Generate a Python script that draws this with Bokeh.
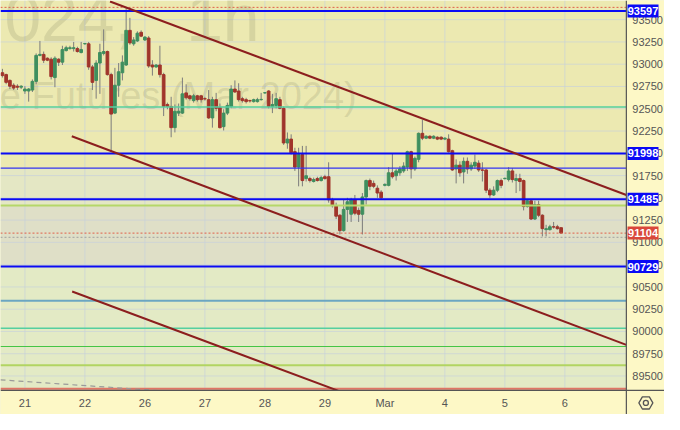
import numpy as np
from bokeh.plotting import figure
from bokeh.models import Range1d, ColumnDataSource
from bokeh.core.properties import value
from bokeh.embed import file_html
from bokeh.resources import INLINE

# ---------------- data ----------------
day_labels = ["21", "22", "26", "27", "28", "29", "Mar", "4", "5", "6"]
bars_per_day = 16
first_full_day_bar = 6
y_ticks = [89500, 89750, 90000, 90250, 90500, 90750, 91000, 91250, 91500,
           91750, 92000, 92250, 92500, 92750, 93000, 93250, 93500]

opens = [92904, 92883, 92818, 92764, 92753, 92742, 92699, 92699, 92710, 92807,
         93099, 93110, 93067, 93056, 92850, 93056, 93023, 93153, 93175, 93175,
         93175, 93131, 93229, 93229, 92969, 92818, 93013, 93121, 93142, 92883,
         92451, 92764, 92904, 92991, 93380, 93229, 93261, 93358, 93272, 93294,
         92991, 92969, 92991, 92883, 92548, 92526, 92288, 92451, 92451, 92678,
         92645, 92591, 92645, 92645, 92613, 92602, 92397, 92602, 92515, 92299,
         92451, 92526, 92721, 92699, 92613, 92602, 92591, 92580, 92580, 92602,
         92678, 92699, 92526, 92537, 92602, 92505, 92116, 92159, 92018, 91845,
         91986, 91716, 91716, 91683, 91716, 91694, 91737, 91737, 91478, 91413,
         91305, 91132, 91370, 91316, 91478, 91359, 91316, 91510, 91694, 91662,
         91608, 91564, 91640, 91640, 91781, 91748, 91781, 91802, 91845, 92018,
         91824, 91932, 92224, 92170, 92191, 92170, 92180, 92180, 92159, 92159,
         92029, 91824, 91867, 91791, 91910, 91824, 91856, 91889, 91813, 91813,
         91586, 91532, 91586, 91694, 91716, 91705, 91802, 91694, 91716, 91694,
         91402, 91467, 91262, 91424, 91305, 91143, 91143, 91175, 91175, 91165]
closes = [92872, 92796, 92753, 92732, 92742, 92753, 92721, 92721, 92807, 93099,
          93110, 93045, 93045, 92861, 93067, 93023, 93164, 93185, 93185, 93185,
          93142, 93164, 93232, 92969, 92796, 93013, 93131, 93142, 92883, 92440,
          92764, 92915, 93023, 93380, 93239, 93272, 93348, 93315, 93304, 92980,
          92969, 92991, 92883, 92526, 92526, 92288, 92472, 92472, 92667, 92623,
          92613, 92645, 92602, 92602, 92610, 92397, 92602, 92505, 92288, 92451,
          92537, 92721, 92688, 92602, 92591, 92580, 92588, 92602, 92602, 92605,
          92680, 92526, 92548, 92613, 92505, 92116, 92159, 92007, 91845, 91986,
          91694, 91748, 91694, 91705, 91694, 91727, 91716, 91478, 91413, 91294,
          91132, 91370, 91456, 91478, 91327, 91316, 91510, 91694, 91629, 91629,
          91554, 91500, 91651, 91781, 91737, 91802, 91824, 91856, 92018, 91824,
          91943, 92224, 92170, 92191, 92170, 92191, 92159, 92159, 92170, 92018,
          91813, 91867, 91781, 91910, 91824, 91867, 91899, 91813, 91810, 91586,
          91532, 91586, 91694, 91640, 91719, 91802, 91705, 91716, 91683, 91402,
          91467, 91262, 91424, 91305, 91154, 91154, 91175, 91172, 91154, 91104]
highs = [92948, 92894, 92829, 92786, 92775, 92764, 92753, 92732, 92829, 93121,
         93261, 93142, 93077, 93077, 93088, 93067, 93207, 93207, 93207, 93250,
         93196, 93250, 93239, 93250, 92991, 93045, 93229, 93391, 93153, 92904,
         92959, 93013, 93099, 93629, 93520, 93304, 93369, 93380, 93315, 93315,
         93045, 93002, 93207, 92904, 92569, 92634, 92548, 92559, 92850, 92775,
         92656, 92667, 92656, 92656, 92634, 92710, 92634, 92678, 92559, 92494,
         92569, 92764, 92818, 92786, 92634, 92623, 92602, 92613, 92623, 92678,
         92688, 92710, 92667, 92678, 92634, 92526, 92234, 92213, 92062, 92062,
         92083, 92083, 91737, 91727, 91737, 91748, 91759, 91899, 91500, 91446,
         91316, 91478, 91500, 91500, 91532, 91391, 91554, 91705, 91716, 91694,
         91640, 91586, 91662, 91845, 91997, 91824, 91856, 91899, 92029, 92029,
         91964, 92234, 92375, 92202, 92202, 92202, 92191, 92191, 92180, 92213,
         92040, 91932, 91910, 91953, 91953, 91899, 91986, 91921, 91899, 91824,
         91608, 91629, 91705, 91716, 91727, 91845, 91835, 91770, 91770, 91705,
         91478, 91478, 91467, 91467, 91316, 91197, 91197, 91229, 91197, 91165]
lows = [92850, 92775, 92721, 92710, 92710, 92721, 92667, 92580, 92688, 92775,
        93088, 93013, 93034, 92829, 92742, 92980, 92991, 93142, 93164, 93142,
        93131, 93121, 93218, 92937, 92710, 92613, 92667, 93099, 92872, 92018,
        92440, 92634, 92818, 92980, 93218, 93207, 93250, 93304, 93261, 92959,
        92872, 92959, 92850, 92418, 92494, 92180, 92234, 92418, 92440, 92602,
        92591, 92569, 92580, 92569, 92591, 92386, 92288, 92472, 92278, 92256,
        92429, 92505, 92678, 92580, 92569, 92559, 92569, 92569, 92569, 92591,
        92667, 92505, 92451, 92505, 92494, 92094, 92051, 91986, 91802, 91629,
        91629, 91683, 91672, 91672, 91683, 91683, 91705, 91446, 91391, 91262,
        91089, 91121, 91229, 91229, 91305, 91229, 91089, 91424, 91586, 91608,
        91500, 91478, 91629, 91629, 91716, 91694, 91748, 91781, 91802, 91716,
        91802, 91899, 92148, 92159, 92159, 92159, 92148, 92148, 92148, 92007,
        91802, 91662, 91737, 91662, 91770, 91802, 91824, 91791, 91683, 91554,
        91500, 91521, 91564, 91608, 91705, 91683, 91672, 91554, 91575, 91359,
        91391, 91251, 91251, 91283, 91067, 91067, 91132, 91154, 91143, 91100]

# labelled horizontal levels (price boxes on the axis)
level_prices = [93597, 91998, 91485, 90729]
last_price = 91104
# other horizontal levels
teal_levels = [92520, 90036]
thin_blue_level = 91834
lime_levels = [91415, 89621]
steel_level = 90345
green_level = 89831
salmon_level = 89358
high_dotted_level = 93638
grey_dotted_level = 91057

# trend lines: (bar index, price) anchors
trend_upper_x = [28.7, 166.4]
trend_upper_y = [93704, 91532]
trend_mid_x = [18.5, 166.4]
trend_mid_y = [92191, 89849]
trend_low_x = [18.6, 100.0]
trend_low_y = [90448, 89171]
dashed_x = [-0.51, 70.0]
dashed_y = [89457, 89255]

watermark_main = ["024,", "1h"]
watermark_sub = "e Futures (Mar 2024)"

# ---------------- layout constants (bar-index / price space) ----------------
X0, X1 = -0.51, 176.57          # whole canvas width
Y0, Y1 = 89068, 93715           # whole canvas height
AX = 166.4                      # price-axis border
BOT = 89338                     # time-axis border
FONT = "Liberation Sans"
AXIS_BG = "#fdf8c6"
AXIS_LINE = "#555555"
LABEL_COL = "#555555"

p = figure(width=664, height=414,
           x_range=Range1d(X0, X1), y_range=Range1d(Y0, Y1),
           x_axis_location=None, y_axis_location=None,
           output_backend="svg", toolbar_location=None,
           min_border=0)
p.min_border_left = p.min_border_right = p.min_border_top = p.min_border_bottom = 0
p.background_fill_color = "#ece9b1"
p.border_fill_color = AXIS_BG
p.outline_line_color = None
p.xgrid.visible = False
p.ygrid.visible = False

# background bands
band_tops = [thin_blue_level, lime_levels[0], level_prices[3]]
band_bottoms = [lime_levels[0], level_prices[3], BOT]
band_colors = ["#e4e7c4", "#dfdfc7", "#e3eac5"]
p.quad(left=X0, right=AX, top=band_tops, bottom=band_bottoms,
       fill_color=band_colors, line_color=None)

# grid
day_ticks = [first_full_day_bar + k * bars_per_day for k in range(len(day_labels))]
p.segment(x0=day_ticks, y0=BOT, x1=day_ticks, y1=Y1,
          line_color="#c6d0dc", line_alpha=0.65, line_width=1)
p.segment(x0=X0, y0=y_ticks, x1=AX, y1=y_ticks,
          line_color="#c6d0dc", line_alpha=0.65, line_width=1)

# watermark
p.text(x=[0.53], y=[93520], text=[watermark_main[0]], text_font=value(FONT),
       text_font_size="66px", text_align="left", text_baseline="alphabetic",
       text_color="#808060", text_alpha=0.2)
p.text(x=[49.0], y=[93520], text=[watermark_main[1]], text_font=value(FONT),
       text_font_size="66px", text_align="left", text_baseline="alphabetic",
       text_color="#808060", text_alpha=0.2)
p.text(x=[94.5], y=[92645], text=[watermark_sub],
       text_font=value(FONT), text_font_size="38px",
       text_align="right", text_baseline="alphabetic",
       text_color="#808060", text_alpha=0.2)

# candles
idx = np.arange(len(opens))
o = np.array(opens); c = np.array(closes)
up = c >= o
src = ColumnDataSource(dict(
    x=idx, top=np.maximum(o, c), bottom=np.minimum(o, c),
    hi=np.array(highs), lo=np.array(lows),
    col=np.where(up, "#3f8f5f", "#a0352b")))
p.segment(x0="x", y0="lo", x1="x", y1="hi", source=src,
          line_color="#7c7c7c", line_width=1)
p.vbar(x="x", width=0.72, top="top", bottom="bottom", source=src,
       fill_color="col", line_color="col", line_width=1)

# horizontal levels
def hline(y, color, width=1, dash="solid"):
    p.segment(x0=[X0], y0=[y], x1=[AX], y1=[y], line_color=color,
              line_width=width, line_dash=dash)

hline(high_dotted_level, "#e0604a", 1, "2 2")
for lv in teal_levels:
    hline(lv, "#55cfa0", 1.5)
hline(thin_blue_level, "#3535f0", 1.2)
hline(lime_levels[0], "#b5d76a", 2)
hline(lime_levels[1], "#b2d462", 2)
hline(steel_level, "#6ba6c2", 2)
hline(green_level, "#45c545", 1.2)
hline(salmon_level, "#e07565", 2)
hline(last_price, "#e0604a", 1, "2 2")
hline(grey_dotted_level, "#a0a0a0", 1, "2 2")
for lv in level_prices:
    hline(lv, "#0a0af5", 2)

# trend lines
p.line(trend_upper_x, trend_upper_y, line_color="#8c1e1e", line_width=2)
p.line(trend_mid_x, trend_mid_y, line_color="#8c1e1e", line_width=2)
p.line(trend_low_x, trend_low_y, line_color="#8c1e1e", line_width=2)
p.line(dashed_x, dashed_y, line_color="#9a9a9a", line_width=1.2, line_dash="5 4")

# axis panels (drawn over anything that runs past the plot area)
p.quad(left=[AX], right=[X1 + 1], top=[Y1 + 50], bottom=[Y0 - 50],
       fill_color=AXIS_BG, line_color=None)
p.quad(left=[X0 - 1], right=[X1 + 1], top=[BOT], bottom=[Y0 - 50],
       fill_color=AXIS_BG, line_color=None)
p.segment(x0=[X0, AX], y0=[BOT, Y0], x1=[X1, AX], y1=[BOT, Y1],
          line_color=AXIS_LINE, line_width=1.2)

# price-axis labels
p.text(x=168.0, y=y_ticks, text=[str(t) for t in y_ticks], text_font=value(FONT),
       text_font_size="11px", text_color=LABEL_COL, text_align="left",
       text_baseline="middle")
# time-axis labels
p.text(x=day_ticks, y=89198, text=day_labels, text_font=value(FONT),
       text_font_size="11px", text_color=LABEL_COL, text_align="center",
       text_baseline="middle")

# price boxes on the axis
box_prices = level_prices + [last_price]
box_colors = ["#0a0af5"] * len(level_prices) + ["#d9473b"]
p.rect(x=170.84, y=box_prices, width=31, height=13, width_units="screen",
       height_units="screen", fill_color=box_colors, line_color=None)
p.text(x=170.84, y=box_prices, text=[str(v) for v in box_prices],
       text_font=value(FONT), text_font_size="11px", text_font_style="bold",
       text_color="white", text_align="center", text_baseline="middle")

# settings gear in the corner
p.scatter(x=[171.6], y=[89198], marker="hex", size=14, fill_color=None,
          line_color="#555555", line_width=1.3)
p.scatter(x=[171.6], y=[89198], marker="circle", size=5, fill_color=None,
          line_color="#555555", line_width=1.3)

open("out.html", "w").write(file_html(p, INLINE))
